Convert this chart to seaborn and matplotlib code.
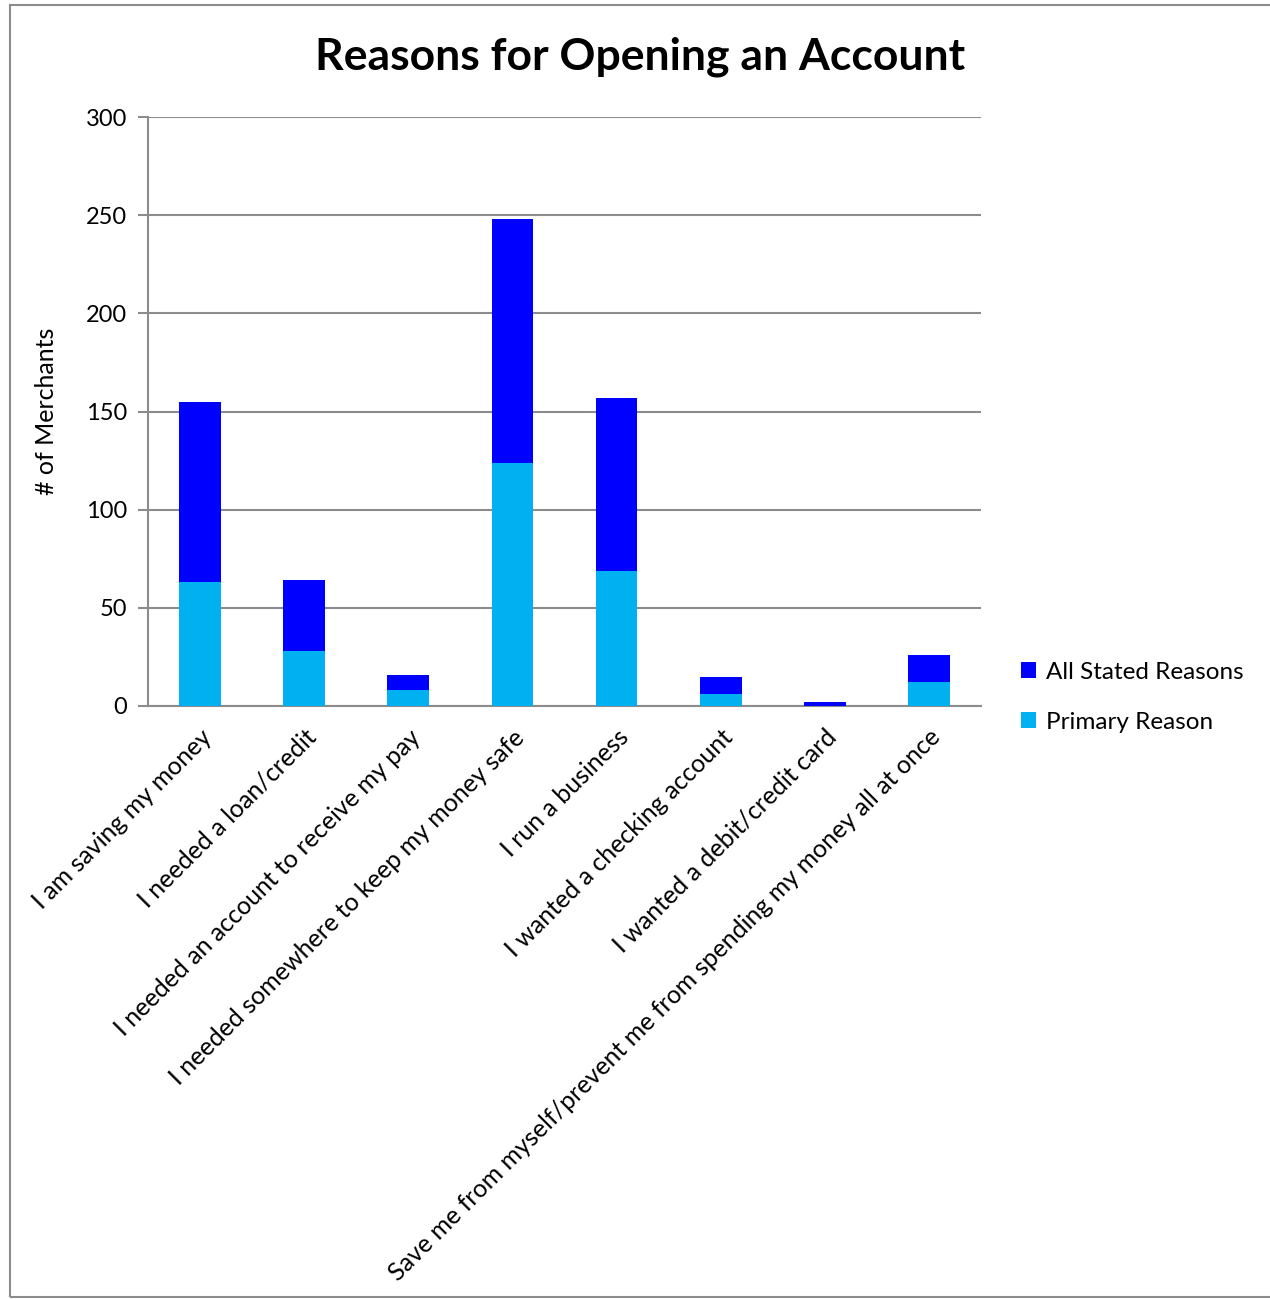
import matplotlib
matplotlib.use("Agg")
import matplotlib.pyplot as plt
from matplotlib.patches import Rectangle
import pandas as pd
import seaborn as sns

reasons = [
    "I am saving my money",
    "I needed a loan/credit",
    "I needed an account to receive my pay",
    "I needed somewhere to keep my money safe",
    "I run a business",
    "I wanted a checking account",
    "I wanted a debit/credit card",
    "Save me from myself/prevent me from spending my money all at once",
]
all_stated = [155, 64, 16, 248, 157, 15, 2, 26]
primary = [63, 28, 8, 124, 69, 6, 0, 12]
y_ticks = [0, 50, 100, 150, 200, 250, 300]

df = pd.DataFrame({"reason": reasons, "all": all_stated, "primary": primary})

sns.set_style("white")
plt.rcParams["font.family"] = ["Lato", "DejaVu Sans"]
plt.rcParams["text.color"] = "black"
plt.rcParams["axes.labelcolor"] = "black"
plt.rcParams["xtick.color"] = "black"
plt.rcParams["ytick.color"] = "black"

fig = plt.figure(figsize=(12.7, 12.99), dpi=100)
ax = fig.add_axes([148 / 1270, 1 - 706 / 1299, (981 - 148) / 1270, (706 - 117) / 1299])

dark = "#0000FF"
light = "#00B0F0"
sns.barplot(data=df, x="reason", y="all", color=dark, width=0.4, ax=ax,
            saturation=1, label="All Stated Reasons", zorder=3, linewidth=0)
sns.barplot(data=df, x="reason", y="primary", color=light, width=0.4, ax=ax,
            saturation=1, label="Primary Reason", zorder=4, linewidth=0)

ax.set_xlim(-0.5, len(reasons) - 0.5)
ax.set_ylim(0, 300)
ax.set_yticks(y_ticks)
ax.set_yticklabels([str(v) for v in y_ticks], fontsize=17)
ax.yaxis.grid(True, color="#8c8c8c", linewidth=1.5, zorder=0)
ax.set_axisbelow(True)

ax.set_xticks(range(len(reasons)))
ax.set_xticklabels(reasons, rotation=45, ha="right", rotation_mode="anchor",
                   fontsize=18)
ax.set_xticks([i - 0.5 for i in range(len(reasons) + 1)], minor=True)
ax.tick_params(axis="x", which="major", length=0, pad=14)
ax.tick_params(axis="x", which="minor", length=7, width=1.5, color="#8c8c8c",
               direction="out")
ax.tick_params(axis="y", length=7, width=1.5, color="#8c8c8c", labelcolor="black",
               direction="out", pad=8, left=True)

for side in ["top", "right"]:
    ax.spines[side].set_visible(False)
for side in ["left", "bottom"]:
    ax.spines[side].set_color("#8c8c8c")
    ax.spines[side].set_linewidth(1.5)

ax.set_xlabel("")
ax.set_ylabel("# of Merchants", fontsize=18, labelpad=20)

fig.suptitle("Reasons for Opening an Account", x=640 / 1270, y=1 - 57 / 1299,
             va="center", fontsize=32, fontweight="bold", color="black")

handles, labels = ax.get_legend_handles_labels()
leg = ax.legend(handles, labels, loc="center left",
                bbox_to_anchor=(1.022, 0.015), fontsize=17.5, frameon=False,
                handlelength=0.6, handleheight=0.6, handletextpad=0.4,
                labelspacing=1.2)

fig.patches.append(Rectangle((10 / 1270, 1 - 1297 / 1299), 1.2, (1297 - 5) / 1299,
                             transform=fig.transFigure, fill=False,
                             edgecolor="#8c8c8c", linewidth=1.5))

fig.savefig("out.png", dpi=100)
